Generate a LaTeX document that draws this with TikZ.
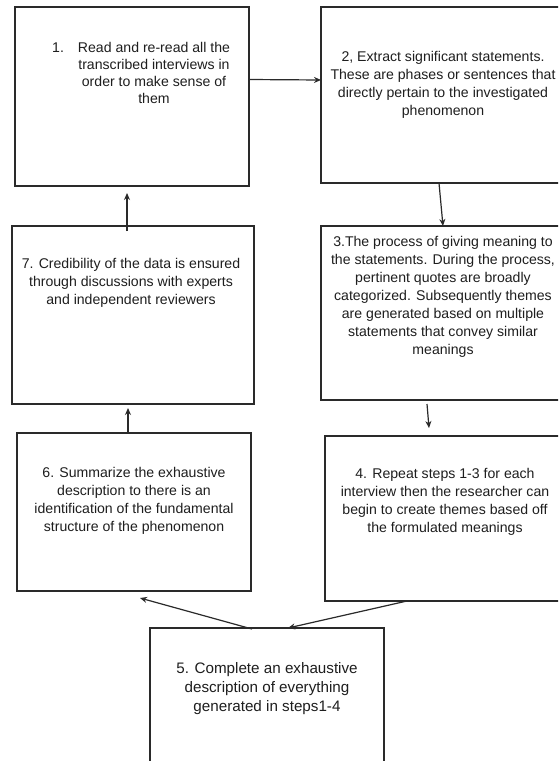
\documentclass[tikz,border=0pt]{standalone}
\usepackage{fontspec}
\setmainfont{Liberation Sans}
\usetikzlibrary{calc,arrows.meta}

\definecolor{boxline}{HTML}{2A2A2A}
\definecolor{boxtext}{HTML}{1E1E1E}

\tikzset{
    stepbox/.style={draw=boxline, line width=1.3pt, inner sep=0pt, outer sep=0pt},
    steptext/.style={text=boxtext, anchor=north, inner sep=0pt, align=center,
        font=\fontsize{14.1}{18}\selectfont},
    steparrow/.style={draw=boxline, line width=1.2pt, -{Stealth[length=7pt,width=6pt]}}
}

\begin{document}
\begin{tikzpicture}[x=1pt, y=-1pt]

    % Fix the page size and cut off what runs over it
    \useasboundingbox (0,0) rectangle (558,761);
    \fill[white] (0,0) rectangle (558,761);
    \clip (0,0) rectangle (558,761);

    % Define the seven boxes
    \node[stepbox, minimum width=234, minimum height=179] (s1) at (132,96.5) {};
    \node[stepbox, minimum width=244, minimum height=176] (s2) at (443,95) {};
    \node[stepbox, minimum width=244, minimum height=174] (s3) at (443,313) {};
    \node[stepbox, minimum width=240, minimum height=165] (s4) at (445,518.5) {};
    \node[stepbox, minimum width=234, minimum height=142] (s5) at (267,699) {};
    \node[stepbox, minimum width=234, minimum height=158] (s6) at (134,512) {};
    \node[stepbox, minimum width=242, minimum height=178] (s7) at (133,315) {};

    % Add the texts of the boxes
    \node[steptext, font=\fontsize{14.1}{17}\selectfont] (t1) at ($(s1.north)+(22,35)$)
        {\llap{1.\hspace{14pt}}Read and re-read all the\\transcribed interviews in\\order to make sense of\\them};
    \node[steptext] (t2) at ($(s2.north)+(0,44.5)$)
        {2, Extract significant statements.\\These are phases or sentences that\\directly pertain to the investigated\\phenomenon};
    \node[steptext] (t3) at ($(s3.north)+(0,10)$)
        {3.The process of giving meaning to\\the statements. During the process,\\pertinent quotes are broadly\\categorized. Subsequently themes\\are generated based on multiple\\statements that convey similar\\meanings};
    \node[steptext] (t4) at ($(s4.north)+(0,32.5)$)
        {4. Repeat steps 1-3 for each\\interview then the researcher can\\begin to create themes based off\\the formulated meanings};
    \node[steptext, font=\fontsize{15.2}{19.3}\selectfont] (t5) at ($(s5.north)+(0,34)$)
        {5. Complete an exhaustive\\description of everything\\generated in steps1-4};
    \node[steptext] (t6) at ($(s6.north)+(0,34.5)$)
        {6. Summarize the exhaustive\\description to there is an\\identification of the fundamental\\structure of the phenomenon};
    \node[steptext] (t7) at ($(s7.north)+(-2,32)$)
        {7. Credibility of the data is ensured\\through discussions with experts\\and independent reviewers};

    % Draw the connectors
    \draw[steparrow] ($(s1.north east)+(0,72.5)$) -- ($(s2.north west)+(0,73)$);
    \draw[steparrow] ($(s2.south west)+(118,0)$) -- ($(s3.north west)+(122,0)$);
    \draw[steparrow] ($(s3.south west)+(106,4)$) -- ($(s4.north west)+(104,-8)$);
    \draw[steparrow] ($(s4.south west)+(82,0)$) -- ($(s5.north west)+(138,0)$);
    \draw[steparrow] ($(s5.north west)+(102,1)$) -- ($(s6.south west)+(123,7)$);
    \draw[steparrow] ($(s6.north west)+(111,0)$) -- ($(s7.south west)+(116,4)$);
    \draw[steparrow] ($(s7.north west)+(115,5)$) -- ($(s1.south west)+(112,7)$);

\end{tikzpicture}
\end{document}
